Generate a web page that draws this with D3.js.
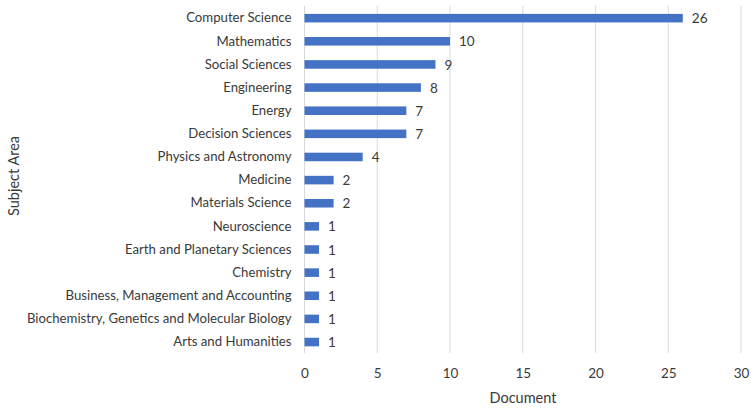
<!DOCTYPE html>
<html>
<head>
<meta charset="utf-8">
<script src="https://cdn.jsdelivr.net/npm/d3@7"></script>
<style>
  html, body { margin: 0; padding: 0; background: #fff; }
  svg { display: block; font-family: Lato, "Open Sans", sans-serif; }
</style>
</head>
<body>
<svg id="chart" width="751" height="408"></svg>
<script>
const categories = [
  "Computer Science", "Mathematics", "Social Sciences", "Engineering", "Energy",
  "Decision Sciences", "Physics and Astronomy", "Medicine", "Materials Science",
  "Neuroscience", "Earth and Planetary Sciences", "Chemistry",
  "Business, Management and Accounting",
  "Biochemistry, Genetics and Molecular Biology", "Arts and Humanities"
];
const documents = [26, 10, 9, 8, 7, 7, 4, 2, 2, 1, 1, 1, 1, 1, 1];
const xTicks = [0, 5, 10, 15, 20, 25, 30];

const svg = d3.select("#chart");
const plotLeft = 304.5, plotRight = 741, plotTop = 6, plotBottom = 353;
const textColor = "#3a3a3a";

const x = d3.scaleLinear().domain([0, 30]).range([plotLeft, plotRight]);
const y = d3.scaleBand().domain(categories).range([plotTop + 0.6, plotBottom + 0.6]).paddingInner(0.63).paddingOuter(0.315);

// vertical gridlines
svg.append("g").selectAll("line").data(xTicks).join("line")
  .attr("x1", d => x(d)).attr("x2", d => x(d))
  .attr("y1", plotTop).attr("y2", plotBottom)
  .attr("stroke", "#d9d9d9").attr("stroke-width", 1);

// bars
svg.append("g").selectAll("rect").data(categories).join("rect")
  .attr("x", x(0))
  .attr("y", d => y(d))
  .attr("width", (d, i) => x(documents[i]) - x(0))
  .attr("height", y.bandwidth())
  .attr("fill", "#4472C4");

// value labels
svg.append("g").selectAll("text").data(categories).join("text")
  .attr("x", (d, i) => x(documents[i]) + 9)
  .attr("y", d => y(d) + y.bandwidth() / 2)
  .attr("dy", "0.38em")
  .attr("font-size", 13.5)
  .attr("fill", textColor)
  .text((d, i) => documents[i]);

// category axis
const yAxis = svg.append("g")
  .attr("transform", `translate(${plotLeft},0)`)
  .call(d3.axisLeft(y).tickSize(0).tickPadding(13));
yAxis.select(".domain").remove();
yAxis.selectAll("text").attr("font-size", 13.2).attr("fill", textColor).attr("font-family", "Lato, sans-serif");

// value axis
const xAxis = svg.append("g")
  .attr("transform", `translate(0,${plotBottom})`)
  .call(d3.axisBottom(x).tickValues(xTicks).tickSize(0).tickPadding(15));
xAxis.select(".domain").remove();
xAxis.selectAll("text").attr("font-size", 13.5).attr("fill", textColor).attr("font-family", "Lato, sans-serif");

// axis titles
svg.append("text")
  .attr("x", 523)
  .attr("y", 403)
  .attr("text-anchor", "middle")
  .attr("font-size", 14.5)
  .attr("fill", textColor)
  .text("Document");

svg.append("text")
  .attr("transform", `translate(18.5,176) rotate(-90)`)
  .attr("text-anchor", "middle")
  .attr("font-size", 14.5)
  .attr("fill", textColor)
  .text("Subject Area");
</script>
</body>
</html>
